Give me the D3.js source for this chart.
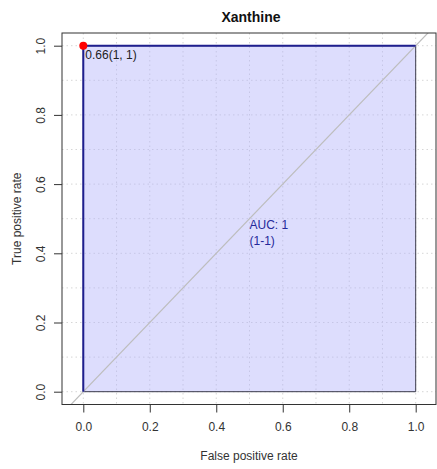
<!DOCTYPE html>
<html>
<head>
<meta charset="utf-8">
<script src="https://cdn.jsdelivr.net/npm/d3@7"></script>
<style>
  body { margin: 0; background: #fff; }
  text { font-family: "Liberation Sans", Arial, sans-serif; }
</style>
</head>
<body>
<svg id="chart" width="437" height="469"></svg>
<script>
// ---- data ----
const title = "Xanthine";
const fpr = [0, 0, 1];          // false positive rate (x)
const tpr = [0, 1, 1];          // true positive rate (y)
const tickValues = [0, 0.2, 0.4, 0.6, 0.8, 1.0];
const gridValues = [0, 0.1, 0.2, 0.3, 0.4, 0.5, 0.6, 0.7, 0.8, 0.9, 1.0];
const bestPoint = { x: 0, y: 1, label: "0.66(1, 1)" };
const aucLines = ["AUC: 1", "(1-1)"];
const aucPos = { x: 0.5, y: 0.5 };
const xLabel = "False positive rate";
const yLabel = "True positive rate";

// ---- layout ----
const svg = d3.select("#chart");
const box = { left: 62, right: 436, top: 33, bottom: 404.5 };
const x = d3.scaleLinear().domain([0, 1]).range([83.3, 415.7]);
const y = d3.scaleLinear().domain([0, 1]).range([391.7, 45.7]);

svg.append("defs").append("clipPath").attr("id", "clip")
  .append("rect").attr("x", box.left).attr("y", box.top)
  .attr("width", box.right - box.left).attr("height", box.bottom - box.top);

const plot = svg.append("g").attr("clip-path", "url(#clip)");

// grid
plot.selectAll(".vg").data(gridValues).enter().append("line")
  .attr("x1", d => x(d)).attr("x2", d => x(d))
  .attr("y1", box.top).attr("y2", box.bottom)
  .attr("stroke", "#d6d6d6").attr("stroke-width", 1).attr("stroke-dasharray", "1.5,3");
plot.selectAll(".hg").data(gridValues).enter().append("line")
  .attr("y1", d => y(d)).attr("y2", d => y(d))
  .attr("x1", box.left).attr("x2", box.right)
  .attr("stroke", "#d6d6d6").attr("stroke-width", 1).attr("stroke-dasharray", "1.5,3");

// AUC polygon
const poly = fpr.map((v, i) => [x(v), y(tpr[i])]);
poly.push([x(1), y(0)]);
plot.append("polygon")
  .attr("points", poly.map(p => p.join(",")).join(" "))
  .attr("fill", "rgba(180,180,250,0.45)")
  .attr("stroke", "#3a3a4a").attr("stroke-width", 1);

// diagonal
const dd = [-0.2, 1.2];
plot.append("line")
  .attr("x1", x(dd[0])).attr("y1", y(dd[0]))
  .attr("x2", x(dd[1])).attr("y2", y(dd[1]))
  .attr("stroke", "#bdbdbd").attr("stroke-width", 1.2);

// ROC line
const line = d3.line().x((d, i) => x(fpr[i])).y((d, i) => y(tpr[i]));
plot.append("path").datum(fpr).attr("d", line)
  .attr("fill", "none").attr("stroke", "#1f1f8f").attr("stroke-width", 2);

// box
svg.append("rect").attr("x", box.left).attr("y", box.top)
  .attr("width", box.right - box.left).attr("height", box.bottom - box.top)
  .attr("fill", "none").attr("stroke", "#333").attr("stroke-width", 1);

// axes
const xAxis = d3.axisBottom(x).tickValues(tickValues).tickFormat(d3.format(".1f")).tickSize(8).tickPadding(10);
const gx = svg.append("g").attr("transform", `translate(0,${box.bottom})`).call(xAxis);
gx.select(".domain").remove();
gx.selectAll("line").attr("stroke", "#333");
gx.selectAll("text").attr("font-size", 12).attr("fill", "#333").attr("font-family", "Liberation Sans, Arial, sans-serif");

const yAxis = d3.axisLeft(y).tickValues(tickValues).tickFormat(d3.format(".1f")).tickSize(8);
const gy = svg.append("g").attr("transform", `translate(${box.left},0)`).call(yAxis);
gy.select(".domain").remove();
gy.selectAll("line").attr("stroke", "#333");
gy.selectAll("text")
  .attr("font-size", 12).attr("fill", "#333").attr("font-family", "Liberation Sans, Arial, sans-serif")
  .attr("text-anchor", "middle").attr("dy", 0)
  .attr("x", 0).attr("y", 0)
  .attr("transform", "translate(-17,0) rotate(-90)");

// best point
svg.append("circle").attr("cx", x(bestPoint.x)).attr("cy", y(bestPoint.y)).attr("r", 4).attr("fill", "#ff0000");
svg.append("text").attr("x", x(bestPoint.x) + 2).attr("y", y(bestPoint.y) + 13)
  .attr("font-size", 12).attr("fill", "#222").text(bestPoint.label);

// AUC text
svg.selectAll(".auc").data(aucLines).enter().append("text")
  .attr("x", x(aucPos.x)).attr("y", (d, i) => y(aucPos.y) + 10 + i * 16.5)
  .attr("font-size", 12).attr("fill", "#25299a").text(d => d);

// titles
svg.append("text").attr("x", (box.left + box.right) / 2 + 2).attr("y", 22)
  .attr("text-anchor", "middle").attr("font-size", 14).attr("font-weight", "bold").attr("fill", "#111").text(title);
svg.append("text").attr("x", (box.left + box.right) / 2).attr("y", 460)
  .attr("text-anchor", "middle").attr("font-size", 12).attr("fill", "#333").text(xLabel);
svg.append("text").attr("transform", `translate(21,${(box.top + box.bottom) / 2}) rotate(-90)`)
  .attr("text-anchor", "middle").attr("font-size", 12).attr("fill", "#333").text(yLabel);
</script>
</body>
</html>
